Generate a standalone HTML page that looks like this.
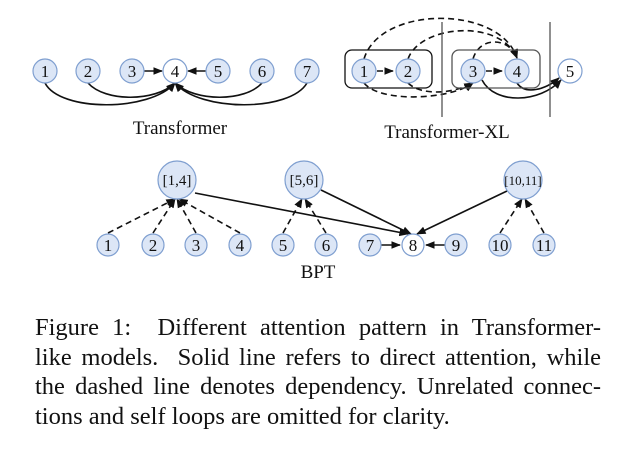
<!DOCTYPE html>
<html><head><meta charset="utf-8"><style>
html,body{margin:0;padding:0;background:#fff;width:628px;height:470px;overflow:hidden}
svg{position:absolute;left:0;top:0}
.cap{position:absolute;left:35px;top:313px;width:566px;font-family:"Liberation Serif",serif;font-size:24.5px;line-height:29.5px;color:#111}
.cap div{text-align:justify;text-align-last:justify;white-space:nowrap}
.cap div.l{text-align-last:left}
</style></head><body>
<svg width="628" height="470" viewBox="0 0 628 470" font-family="Liberation Serif, serif">
<defs>
<marker id="a" viewBox="0 0 10 10" refX="9" refY="5" markerWidth="6" markerHeight="6" orient="auto"><path d="M0,1 L10,5 L0,9z" fill="#111"/></marker>
</defs>
<g fill="none" stroke="#111" stroke-width="1.6">
<path d="M45,83 C60,112 150,112 175,83" marker-end="url(#a)"/>
<path d="M88,83 C105,102 155,102 175,83" marker-end="url(#a)"/>
<path d="M262,83 C245,102 195,102 175,83" marker-end="url(#a)"/>
<path d="M307,83 C290,112 200,112 175,83" marker-end="url(#a)"/>
<line x1="144" y1="71" x2="162" y2="71" marker-end="url(#a)"/>
<line x1="206" y1="71" x2="188" y2="71" marker-end="url(#a)"/>
<g stroke-dasharray="6,4">
<path d="M364,59 C380,5 500,5 517,58" marker-end="url(#a)"/>
<path d="M408,59 C420,25 500,18 517,58" marker-end="url(#a)"/>
<path d="M473,59 C480,35 510,38 517,58" marker-end="url(#a)"/>
<path d="M364,83 C380,103 450,100 473,83" marker-end="url(#a)"/>
<path d="M408,83 C420,95 450,95 473,83" marker-end="url(#a)"/>
<line x1="377" y1="71" x2="393" y2="71" marker-end="url(#a)"/>
<line x1="486" y1="71" x2="502" y2="71" marker-end="url(#a)"/>
</g>
<path d="M482,80 C495,105 540,103 561,80" marker-end="url(#a)"/>
<path d="M517,83 C525,95 545,90 559,78" marker-end="url(#a)"/>
<rect x="345" y="50" width="87" height="38" rx="7" stroke-width="1.3"/>
<rect x="452" y="50" width="88" height="38" rx="7" stroke="#555" stroke-width="1.3"/>
<line x1="442" y1="22" x2="442" y2="117" stroke="#555" stroke-width="1.3"/>
<line x1="550" y1="22" x2="550" y2="117" stroke="#555" stroke-width="1.3"/>
<g stroke-dasharray="6,4">
<line x1="108" y1="233" x2="175" y2="199" marker-end="url(#a)"/>
<line x1="153" y1="233" x2="175" y2="199" marker-end="url(#a)"/>
<line x1="196" y1="233" x2="177" y2="199" marker-end="url(#a)"/>
<line x1="240" y1="233" x2="179" y2="199" marker-end="url(#a)"/>
<line x1="283" y1="233" x2="302" y2="199" marker-end="url(#a)"/>
<line x1="326" y1="233" x2="305" y2="199" marker-end="url(#a)"/>
<line x1="500" y1="233" x2="522" y2="199" marker-end="url(#a)"/>
<line x1="544" y1="233" x2="525" y2="199" marker-end="url(#a)"/>
</g>
<line x1="195" y1="193" x2="408" y2="234" marker-end="url(#a)"/>
<line x1="321" y1="190" x2="411" y2="234" marker-end="url(#a)"/>
<line x1="507" y1="191" x2="417" y2="234" marker-end="url(#a)"/>
<line x1="381" y1="245" x2="400" y2="245" marker-end="url(#a)"/>
<line x1="445" y1="245" x2="426" y2="245" marker-end="url(#a)"/>
</g>
<g stroke="#7f9fd0" stroke-width="1.2" fill="#dce6f6">
<circle cx="45" cy="71" r="12"/><circle cx="88" cy="71" r="12"/><circle cx="132" cy="71" r="12"/>
<circle cx="175" cy="71" r="12" fill="#fff"/><circle cx="218" cy="71" r="12"/><circle cx="262" cy="71" r="12"/><circle cx="307" cy="71" r="12"/>
<circle cx="364" cy="71" r="12"/><circle cx="408" cy="71" r="12"/><circle cx="473" cy="71" r="12"/><circle cx="517" cy="71" r="12"/><circle cx="570" cy="71" r="12" fill="#fff"/>
<circle cx="177" cy="180" r="19"/><circle cx="304" cy="180" r="19"/><circle cx="523" cy="180" r="19"/>
<circle cx="108" cy="245" r="11"/><circle cx="153" cy="245" r="11"/><circle cx="196" cy="245" r="11"/><circle cx="240" cy="245" r="11"/>
<circle cx="283" cy="245" r="11"/><circle cx="326" cy="245" r="11"/><circle cx="370" cy="245" r="11"/><circle cx="413" cy="245" r="11" fill="#fff"/>
<circle cx="456" cy="245" r="11"/><circle cx="500" cy="245" r="11"/><circle cx="544" cy="245" r="11"/>
</g>
<g fill="#111" font-size="17" text-anchor="middle">
<text x="45" y="77">1</text><text x="88" y="77">2</text><text x="132" y="77">3</text><text x="175" y="77">4</text><text x="218" y="77">5</text><text x="262" y="77">6</text><text x="307" y="77">7</text>
<text x="364" y="77">1</text><text x="408" y="77">2</text><text x="473" y="77">3</text><text x="517" y="77">4</text><text x="570" y="77">5</text>
<text x="108" y="251">1</text><text x="153" y="251">2</text><text x="196" y="251">3</text><text x="240" y="251">4</text><text x="283" y="251">5</text><text x="326" y="251">6</text><text x="370" y="251">7</text><text x="413" y="251">8</text><text x="456" y="251">9</text><text x="500" y="251">10</text><text x="544" y="251">11</text>
<text x="177" y="185" font-size="15">[1,4]</text><text x="304" y="185" font-size="15">[5,6]</text><text x="523" y="185" font-size="13">[10,11]</text>
<text x="180" y="134" font-size="19">Transformer</text>
<text x="447" y="138" font-size="19">Transformer-XL</text>
<text x="318" y="278" font-size="19">BPT</text>
</g>
</svg>
<div class="cap">
<div>Figure 1:&nbsp; Different attention pattern in Transformer-</div>
<div>like models.&nbsp; Solid line refers to direct attention, while</div>
<div>the dashed line denotes dependency. Unrelated connec-</div>
<div class="l">tions and self loops are omitted for clarity.</div>
</div>
</body></html>
